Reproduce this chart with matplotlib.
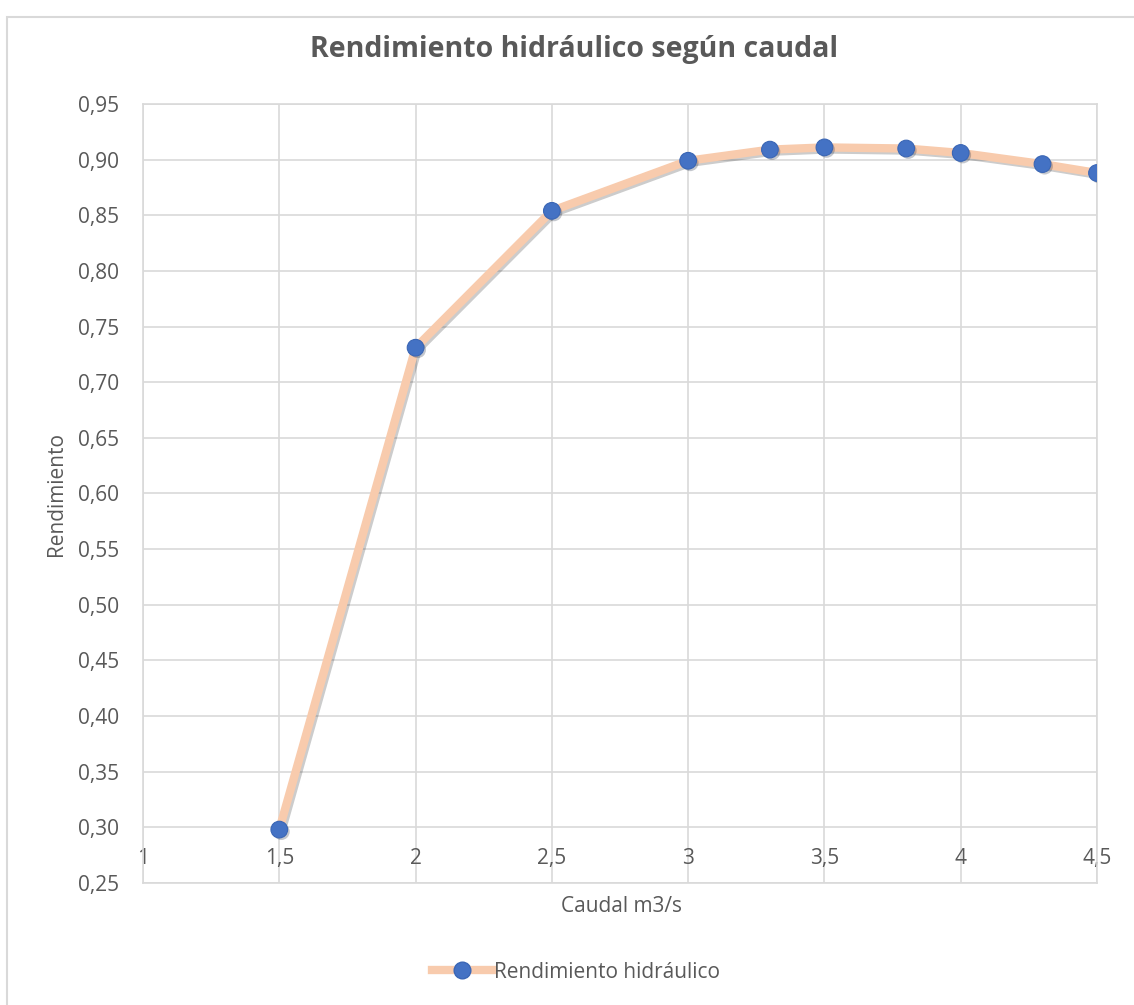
import matplotlib
matplotlib.use("Agg")
from matplotlib import pyplot as plt
from matplotlib.patches import Rectangle
from matplotlib.lines import Line2D
import matplotlib.patheffects as pe

# caudal (m3/s) vs rendimiento hidraulico
caudal = [1.5, 2, 2.5, 3, 3.3, 3.5, 3.8, 4, 4.3, 4.5]
rendimiento = [0.298, 0.731, 0.854, 0.899, 0.909, 0.911, 0.910, 0.906, 0.896, 0.888]

x_ticks = [1, 1.5, 2, 2.5, 3, 3.5, 4, 4.5]
x_labels = ["1", "1,5", "2", "2,5", "3", "3,5", "4", "4,5"]
y_ticks = [0.25, 0.30, 0.35, 0.40, 0.45, 0.50, 0.55, 0.60, 0.65, 0.70, 0.75, 0.80, 0.85, 0.90, 0.95]
y_labels = [f"{v:.2f}".replace(".", ",") for v in y_ticks]

plt.rcParams['font.family'] = ['Open Sans', 'DejaVu Sans']
text_color = "#595959"
grid_color = "#D9D9D9"

fig = plt.figure(figsize=(11.34, 10.05), dpi=100)
ax = fig.add_axes([143 / 1134, 1 - 883 / 1005, (1097 - 143) / 1134, (883 - 104) / 1005])

# light chart frame (only top and left show in the crop)
fig.patches.append(Rectangle((7 / 1134, -0.01), 1.1, 998 / 1005, transform=fig.transFigure,
                             fill=False, edgecolor=grid_color, linewidth=1.5))

shadow = [pe.SimpleLineShadow(offset=(1.5, -1.5), shadow_color="black", alpha=0.2), pe.Normal()]
ax.plot(caudal, rendimiento, color="#F8CBAD", linewidth=6, zorder=3,
        path_effects=shadow, solid_capstyle="round", label="Rendimiento hidráulico")
ax.plot(caudal, rendimiento, linestyle="none", marker="o", markersize=12,
        markerfacecolor="#4472C4", markeredgecolor="#3A66B5", markeredgewidth=0.8, zorder=4,
        path_effects=[pe.SimplePatchShadow(offset=(1.5, -1.5), alpha=0.25), pe.Normal()])

ax.set_xlim(1, 4.5)
ax.set_ylim(0.25, 0.95)
ax.set_xticks(x_ticks)
ax.set_xticklabels(x_labels)
ax.set_yticks(y_ticks)
ax.set_yticklabels(y_labels)
ax.grid(True, color=grid_color, linewidth=1.2)
ax.set_axisbelow(True)
for s in ax.spines.values():
    s.set_color(grid_color)
    s.set_linewidth(1.2)
# x labels sit on the 0,30 line like the excel chart
ax.spines['bottom'].set_position(('data', 0.3))
ax.spines['bottom'].set_visible(False)
ax.axhline(0.25, color=grid_color, linewidth=1.2, clip_on=False)
ax.tick_params(length=0, labelsize=15, colors=text_color)
ax.tick_params(axis='x', pad=15)
ax.tick_params(axis='y', pad=17)

fig.text(574 / 1134, 1 - 50 / 1005, "Rendimiento hidráulico según caudal", ha="center", va="center",
         fontsize=20.5, fontweight="bold", color=text_color)
fig.text(621 / 1134, 1 - 907 / 1005, "Caudal m3/s", ha="center", va="center", fontsize=15, color=text_color)
fig.text(57 / 1134, 1 - 494 / 1005, "Rendimiento", ha="center", va="center", rotation=90,
         fontsize=15, color=text_color)

handle = Line2D([], [], color="#F8CBAD", linewidth=6, marker="o", markersize=12,
                markerfacecolor="#4472C4", markeredgecolor="#3A66B5")
fig.legend([handle], ["Rendimiento hidráulico"], loc="center", bbox_to_anchor=(576 / 1134, 1 - 972 / 1005),
           frameon=False, fontsize=15, labelcolor=text_color, handlelength=2.9, handletextpad=0.05)

fig.savefig("out.png", dpi=100)
